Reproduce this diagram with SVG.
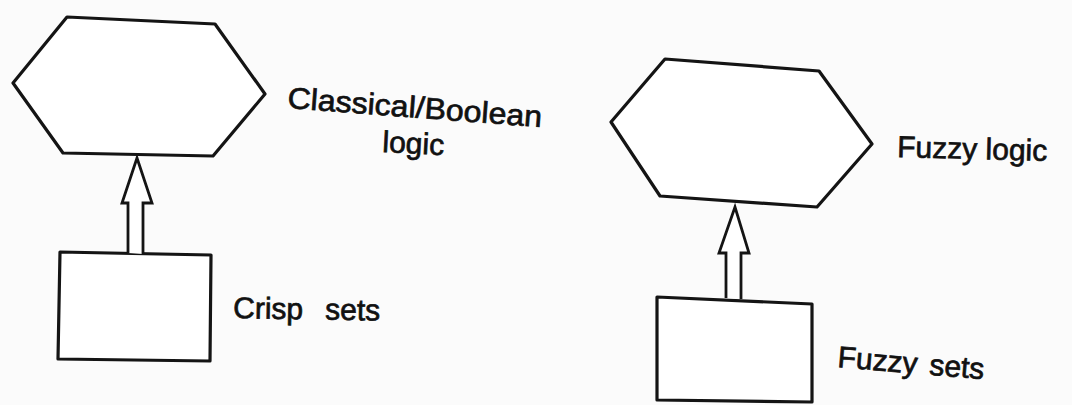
<svg xmlns="http://www.w3.org/2000/svg" width="1072" height="405" viewBox="0 0 1072 405">
  <style>
    .shape { fill: #ffffff; stroke: #141414; stroke-width: 3.2; stroke-linejoin: round; }
    .arrow { fill: #ffffff; stroke: #141414; stroke-width: 2.8; stroke-linejoin: miter; }
    .label { font-family: "Liberation Sans", Arial, sans-serif; font-size: 30px; fill: #111111; stroke: #111111; stroke-width: 0.7; }
  </style>
  <rect x="0" y="0" width="1072" height="405" fill="#fbfbfb"/>

  <!-- Crisp side -->
  <g id="boolean-logic">
    <polygon class="shape" points="67,17 215,24 265,94 213,156 63,153 13,83"/>
    <text class="label" transform="translate(287,108) rotate(4.3)" textLength="255" lengthAdjust="spacingAndGlyphs">Classical/Boolean</text>
    <text class="label" transform="translate(382,152) rotate(3)">logic</text>
  </g>
  <g id="crisp-sets">
    <polygon class="shape" points="60,252 211,255 210,361 58,359"/>
    <text class="label" transform="translate(233,318) rotate(1)">Crisp<tspan dx="22">sets</tspan></text>
  </g>

  <!-- Fuzzy side -->
  <g id="fuzzy-logic">
    <polygon class="shape" points="665,59 819,71 872,144 817,207 660,196 611,122"/>
    <text class="label" transform="translate(897,157) rotate(1.5)" font-size="29">Fuzzy logic</text>
  </g>
  <g id="fuzzy-sets">
    <polygon class="shape" points="657,297 812,304 812,402 657,400"/>
    <text class="label" transform="translate(837,367) rotate(4.8)">Fuzzy<tspan dx="12">sets</tspan></text>
  </g>

  <!-- Hollow block arrows from each set type up to its logic -->
  <g id="connectors">
    <path class="arrow" d="M128,253 L128,203 L122,203 L137,158 L152,203 L143,203 L143,254"/>
    <path class="arrow" d="M726,298 L726,253 L719,253 L735,207 L749,253 L741,253 L741,299"/>
  </g>
</svg>
